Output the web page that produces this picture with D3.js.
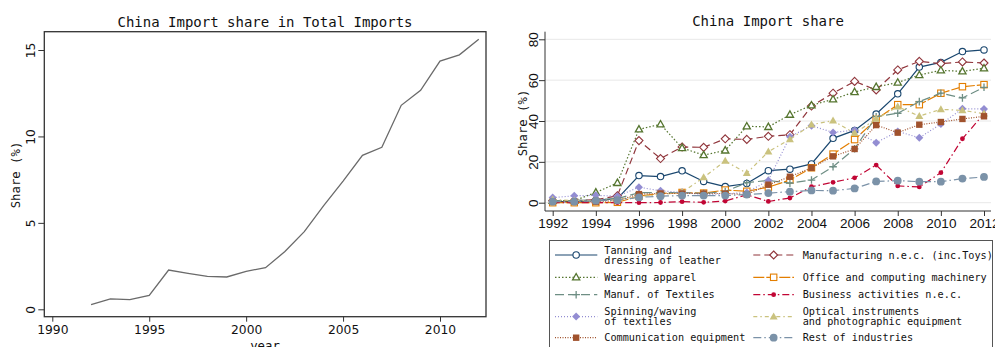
<!DOCTYPE html>
<html>
<head>
<meta charset="utf-8">
<script src="https://cdn.jsdelivr.net/npm/d3@7"></script>
<style>
  html, body { margin: 0; padding: 0; background: #fff; }
  svg { display: block; }
</style>
</head>
<body>
<svg id="chart" width="995" height="347"></svg>
<script>
// Years covered by both panels
const years = [1992,1993,1994,1995,1996,1997,1998,1999,2000,2001,2002,2003,2004,2005,2006,2007,2008,2009,2010,2011,2012];

// Left panel: China share in total imports (%)
const totalShare = [0.27,0.6,0.56,0.81,2.27,2.08,1.91,1.87,2.2,2.41,3.34,4.49,6.0,7.42,8.91,9.37,11.8,12.67,14.36,14.72,15.62];
const leftXTicks = [1990,1995,2000,2005,2010];
const leftYTicks = [0,5,10,15];

// Right panel: China share by industry (%)
const tanning       = [0.5,0.5,1,2,13.3,12.8,15.6,10.4,7.9,9.4,15.7,16.4,19,31.5,35.4,43.4,53.3,66.4,68.7,74,74.8];
const manufacturing = [1,1,1.5,3.4,30.4,21.6,27.3,27.1,31.3,31,32.5,33.3,47.3,53.6,59.4,55.2,65,69.2,68.1,68.9,68.4];
const wearing       = [1,1,5,9.7,35.9,38.4,26.8,23.3,25.6,37.4,37.1,43.1,47.7,50.6,54.2,56.7,58.8,62.5,64.8,64.3,65.8];
const office        = [0,0,0,0.2,3.2,4.5,5,4.7,6.2,5.6,7.6,11.1,17.1,23.8,30.9,40.8,48,48,53.6,56.8,57.8];
const textiles      = [1,1,1.5,2,4.9,5,5,4.5,5.5,9.8,10.9,9.6,11.1,17.6,26.4,42.1,43.8,49.5,53.6,51.3,56.5];
const business      = [0,0,0,0,0,0.1,0.5,0.2,0.8,3.9,0.6,2.3,7.8,10,12.2,18.4,8.2,7.7,14.7,31.3,43.6];
const spinning      = [2.5,3.4,3.6,3.2,7.6,5.8,5,4,4.3,5,10.9,32.3,37.7,34.4,35.5,29.4,34.9,31.8,38.5,46,45.9];
const optical       = [1.5,1,1,1.5,3,4,5,12.4,20.4,14.4,25,31,38.2,40.2,34,41,47,42.4,45.7,45.2,43.6];
const communication = [0.5,0.5,0.5,1,4.2,4.5,4.5,4.5,4.5,4,8.8,12.7,17.1,22.7,26.3,38,34.3,38.2,39.5,41,42.3];
const rest          = [0.5,0.5,1,1.2,2.6,3.2,3.5,3.5,3.5,4,4.7,5.4,6,5.9,7,10.4,10.8,10.3,10.3,11.8,12.6];
const rightXTicks = [1992,1994,1996,1998,2000,2002,2004,2006,2008,2010,2012];
const rightYTicks = [0,20,40,60,80];

const seriesNames = [
  ["Tanning and", "dressing of leather"],
  ["Manufacturing n.e.c. (inc.Toys)"],
  ["Wearing apparel"],
  ["Office and computing machinery"],
  ["Manuf. of Textiles"],
  ["Business activities n.e.c."],
  ["Spinning/waving", "of textiles"],
  ["Optical instruments", "and photographic equipment"],
  ["Communication equipment"],
  ["Rest of industries"]
];
const seriesValues = [tanning, manufacturing, wearing, office, textiles, business, spinning, optical, communication, rest];

// Line colour, dash pattern and marker for each industry
const styles = [
  {color: "#1a476f", dash: null,          marker: "circleOpen"},
  {color: "#90353b", dash: "7,4",         marker: "diamondOpen"},
  {color: "#55752f", dash: "1.5,2",       marker: "triangleOpen"},
  {color: "#e37e00", dash: "11,2",        marker: "squareOpen"},
  {color: "#6e8e84", dash: "9,4",         marker: "plus"},
  {color: "#c10534", dash: "7,3,1.5,3",   marker: "circleSmall"},
  {color: "#938dd2", dash: "1,2",         marker: "diamond"},
  {color: "#cac27e", dash: "4,3,1.5,3",   marker: "triangle"},
  {color: "#a0522d", dash: "1,1.5",       marker: "square"},
  {color: "#7b92a8", dash: "8,3,1.5,3",   marker: "circleBig"}
];

const svg = d3.select("#chart");
const monoFont = "'DejaVu Sans Mono', monospace";
const sansFont = "'DejaVu Sans', sans-serif";

// ---------- Left panel ----------
const L = {left: 44.3, right: 486, top: 31.7, bottom: 316.7};
const lx = d3.scaleLinear().domain([1990, 2010]).range([52.3, 440]);
const ly = d3.scaleLinear().domain([0, 15]).range([309.3, 50]);

const left = svg.append("g");
left.append("rect")
  .attr("x", L.left).attr("y", L.top)
  .attr("width", L.right - L.left).attr("height", L.bottom - L.top)
  .attr("fill", "none").attr("stroke", "#333").attr("stroke-width", 1.3);

left.append("path")
  .datum(years.map((y, i) => [y, totalShare[i]]))
  .attr("fill", "none").attr("stroke", "#6a6a6a").attr("stroke-width", 1.3)
  .attr("d", d3.line().x(d => lx(d[0])).y(d => ly(d[1])));

// x axis ticks
const lxAxis = left.append("g").attr("transform", `translate(0,${L.bottom})`)
  .call(d3.axisBottom(lx).tickValues(leftXTicks).tickSize(5).tickSizeOuter(0).tickFormat(d3.format("d")));
lxAxis.select(".domain").remove();
lxAxis.selectAll("line").attr("stroke", "#333");
lxAxis.selectAll("text").attr("font-family", sansFont).attr("font-size", 12.3)
  .attr("fill", "#111").attr("dy", "0.71em").attr("y", 9);

// y axis ticks with rotated labels
const lyAxis = left.append("g").attr("transform", `translate(${L.left},0)`)
  .call(d3.axisLeft(ly).tickValues(leftYTicks).tickSize(6).tickSizeOuter(0));
lyAxis.select(".domain").remove();
lyAxis.selectAll("line").attr("stroke", "#333");
lyAxis.selectAll("text").remove();
lyAxis.selectAll(".tick").append("text")
  .attr("transform", "translate(-9.5,0) rotate(-90)")
  .attr("text-anchor", "middle")
  .attr("font-family", sansFont).attr("font-size", 12.3).attr("fill", "#111")
  .text(d => d);

left.append("text")
  .attr("x", 265).attr("y", 26.5).attr("text-anchor", "middle")
  .attr("font-family", monoFont).attr("font-size", 14).attr("fill", "#111")
  .text("China Import share in Total Imports");
left.append("text")
  .attr("transform", "translate(20,175) rotate(-90)").attr("text-anchor", "middle")
  .attr("font-family", monoFont).attr("font-size", 12.3).attr("fill", "#111")
  .text("Share (%)");
left.append("text")
  .attr("x", 265).attr("y", 349.5).attr("text-anchor", "middle")
  .attr("font-family", monoFont).attr("font-size", 12.3).attr("fill", "#111")
  .text("year");

// ---------- Right panel ----------
const R = {left: 545, right: 991, top: 31.7, bottom: 211};
const rx = d3.scaleLinear().domain([1992, 2012]).range([552.7, 984]);
const ry = d3.scaleLinear().domain([0, 80]).range([202.7, 39.3]);

const right = svg.append("g");

// grid lines
right.append("g").selectAll("line").data(rightYTicks).join("line")
  .attr("x1", R.left).attr("x2", R.right)
  .attr("y1", d => ry(d)).attr("y2", d => ry(d))
  .attr("stroke", "#e8e8e8").attr("stroke-width", 1);

const rxAxis = right.append("g").attr("transform", `translate(0,${R.bottom})`)
  .call(d3.axisBottom(rx).tickValues(rightXTicks).tickSize(5).tickSizeOuter(0).tickFormat(d3.format("d")));
rxAxis.select(".domain").attr("d", `M${R.left},0H${R.right}`).attr("stroke", "#333");
rxAxis.selectAll("line").attr("stroke", "#333");
rxAxis.selectAll("text").attr("font-family", "'Liberation Sans', sans-serif").attr("font-size", 13.5)
  .attr("fill", "#111").attr("dy", "0.71em").attr("y", 7.5);

const ryAxis = right.append("g").attr("transform", `translate(${R.left},0)`)
  .call(d3.axisLeft(ry).tickValues(rightYTicks).tickSize(6).tickSizeOuter(0));
ryAxis.select(".domain").attr("d", `M0,${R.top}V${R.bottom}`).attr("stroke", "#333");
ryAxis.selectAll("line").attr("stroke", "#333");
ryAxis.selectAll("text").remove();
ryAxis.selectAll(".tick").append("text")
  .attr("transform", "translate(-6.7,0) rotate(-90)")
  .attr("text-anchor", "middle")
  .attr("font-family", "'Liberation Sans', sans-serif").attr("font-size", 13.5).attr("fill", "#111")
  .text(d => d);

right.append("text")
  .attr("x", 768).attr("y", 26).attr("text-anchor", "middle")
  .attr("font-family", monoFont).attr("font-size", 14).attr("fill", "#111")
  .text("China Import share");
right.append("text")
  .attr("transform", "translate(527,123) rotate(-90)").attr("text-anchor", "middle")
  .attr("font-family", monoFont).attr("font-size", 12.3).attr("fill", "#111")
  .text("Share (%)");

// marker drawing
function drawMarker(g, type, color) {
  const sw = 1.1;
  switch (type) {
    case "circleOpen":
      g.append("circle").attr("r", 3.2).attr("fill", "#fff").attr("stroke", color).attr("stroke-width", sw); break;
    case "circleSmall":
      g.append("circle").attr("r", 2.4).attr("fill", color); break;
    case "circleBig":
      g.append("circle").attr("r", 3.9).attr("fill", color); break;
    case "diamondOpen":
      g.append("path").attr("d", "M0,-4L4,0L0,4L-4,0Z").attr("fill", "#fff").attr("stroke", color).attr("stroke-width", sw); break;
    case "diamond":
      g.append("path").attr("d", "M0,-4L4,0L0,4L-4,0Z").attr("fill", color); break;
    case "triangleOpen":
      g.append("path").attr("d", "M0,-3.8L3.6,2.6L-3.6,2.6Z").attr("fill", "#fff").attr("stroke", color).attr("stroke-width", sw + 0.2); break;
    case "triangle":
      g.append("path").attr("d", "M0,-4.2L4,2.8L-4,2.8Z").attr("fill", color); break;
    case "squareOpen":
      g.append("rect").attr("x", -3.2).attr("y", -3.2).attr("width", 6.4).attr("height", 6.4)
        .attr("fill", "#fff").attr("stroke", color).attr("stroke-width", sw); break;
    case "square":
      g.append("rect").attr("x", -3.2).attr("y", -3.2).attr("width", 6.4).attr("height", 6.4).attr("fill", color); break;
    case "plus":
      g.append("path").attr("d", "M-3.8,0H3.8M0,-3.8V3.8").attr("stroke", color).attr("stroke-width", 1.3); break;
  }
}

const lineGen = d3.line().x(d => rx(d[0])).y(d => ry(d[1]));
const seriesLayer = right.append("g");
seriesValues.forEach((vals, k) => {
  const st = styles[k];
  const pts = years.map((y, i) => [y, vals[i]]);
  const g = seriesLayer.append("g");
  g.append("path").datum(pts)
    .attr("fill", "none").attr("stroke", st.color).attr("stroke-width", 1.2)
    .attr("stroke-dasharray", st.dash)
    .attr("d", lineGen);
  g.selectAll("g.m").data(pts).join("g").attr("class", "m")
    .attr("transform", d => `translate(${rx(d[0])},${ry(d[1])})`)
    .each(function() { drawMarker(d3.select(this), st.marker, st.color); });
});

// ---------- Legend ----------
const legend = svg.append("g");
legend.append("rect")
  .attr("x", 549.5).attr("y", 240.5).attr("width", 443).attr("height", 130)
  .attr("fill", "#fff").attr("stroke", "#555").attr("stroke-width", 1);

const rowY = [255, 277.3, 294.7, 316.6, 337.7];
const colKey = [[555, 597.3], [753.3, 794]];
const colText = [604.3, 802.7];
seriesNames.forEach((lines, k) => {
  const row = Math.floor(k / 2), col = k % 2;
  const st = styles[k];
  const cy = rowY[row];
  const item = legend.append("g");
  item.append("line")
    .attr("x1", colKey[col][0]).attr("x2", colKey[col][1]).attr("y1", cy).attr("y2", cy)
    .attr("stroke", st.color).attr("stroke-width", 1.2).attr("stroke-dasharray", st.dash);
  const mg = item.append("g").attr("transform", `translate(${(colKey[col][0] + colKey[col][1]) / 2},${cy})`);
  drawMarker(mg, st.marker, st.color);
  const t = item.append("text")
    .attr("font-family", monoFont).attr("font-size", 10.2).attr("fill", "#111");
  const y0 = cy - (lines.length - 1) * 5;
  lines.forEach((s, j) => {
    t.append("tspan").attr("x", colText[col]).attr("y", y0 + j * 10).attr("dy", "0.35em").text(s);
  });
});
</script>
</body>
</html>
